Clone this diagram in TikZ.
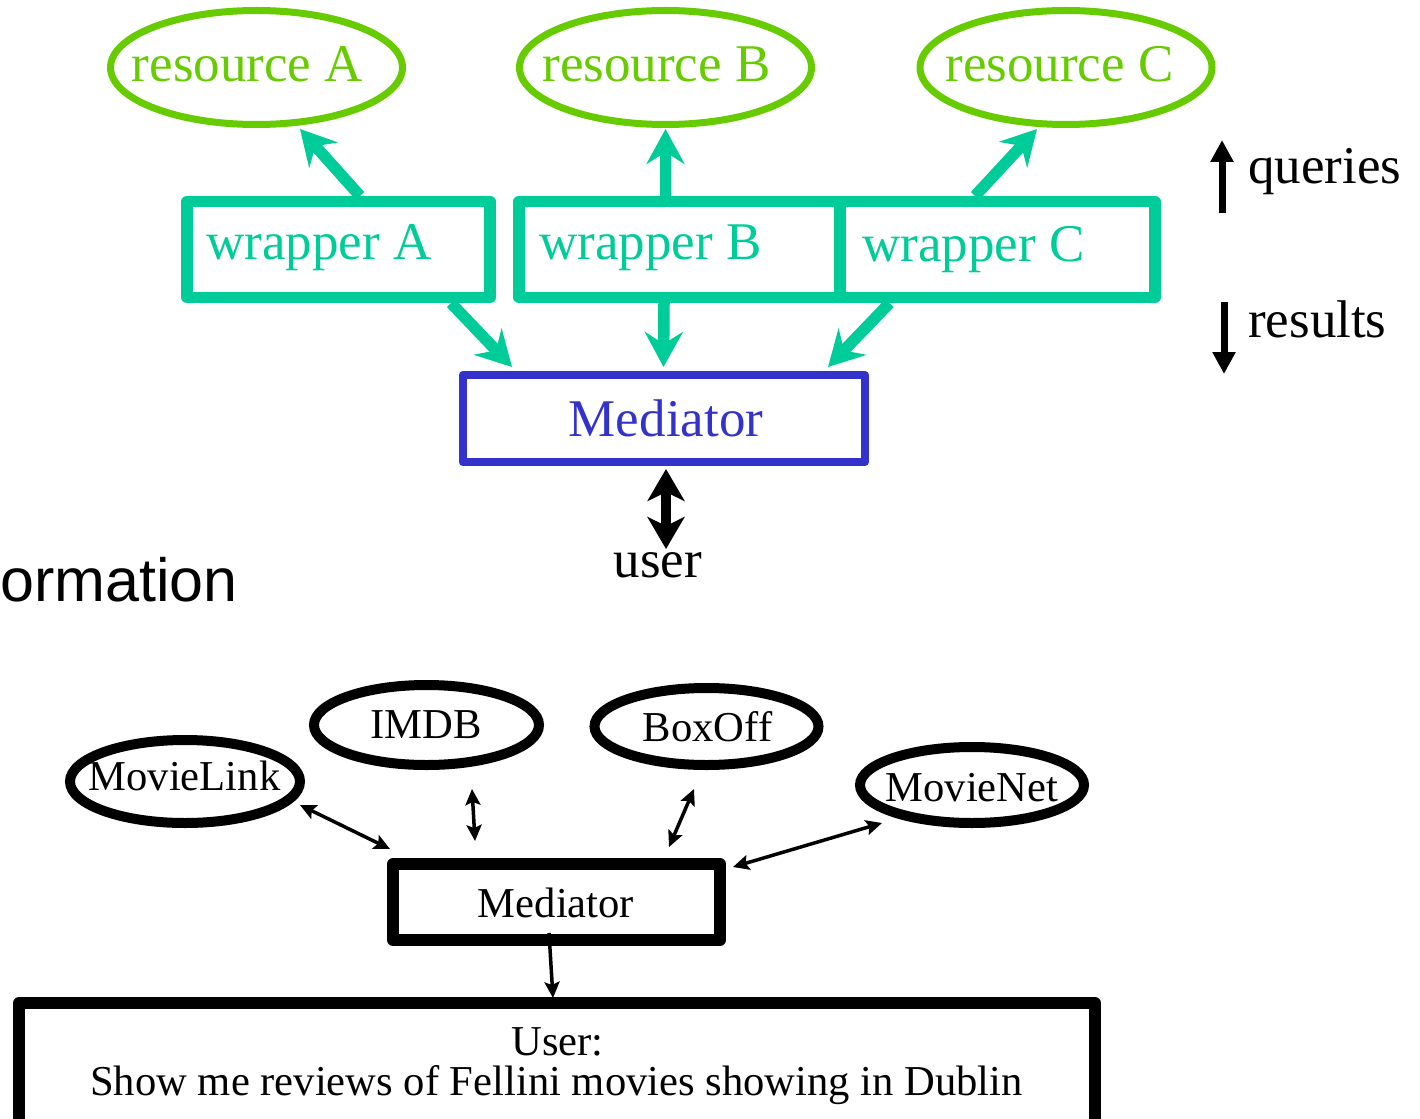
\documentclass[tikz,border=0pt]{standalone}
\usepackage{fontspec}
\setmainfont{Liberation Serif}
\newfontfamily\arialfont{Liberation Sans}
\usetikzlibrary{shapes.geometric,arrows.meta}
\definecolor{resgreen}{HTML}{66CC00}
\definecolor{wrapteal}{HTML}{00CC99}
\definecolor{medblue}{HTML}{3333CC}
\begin{document}
\begin{tikzpicture}[x=1pt,y=-1pt,
  bigtext/.style={font=\fontsize{53}{60}\selectfont, inner sep=0pt},
  smalltext/.style={font=\fontsize{42.6}{48}\selectfont, inner sep=0pt},
  resell/.style={ellipse, draw=resgreen, line width=7pt, minimum width=292pt, minimum height=114pt, inner sep=0pt},
  wrapbox/.style={rectangle, draw=wrapteal, line width=11.5pt, line join=round, minimum height=95.6pt, inner sep=0pt},
  medbox/.style={rectangle, draw=medblue, line width=8pt, line join=round, minimum width=402.5pt, minimum height=87pt, inner sep=0pt},
  srcell/.style={ellipse, draw=black, line width=10pt, inner sep=0pt},
  blackbox/.style={rectangle, draw=black, line width=12pt, line join=round, inner sep=0pt},
  tealarr/.style={draw=wrapteal, line width=11.5pt, -{Stealth[length=35pt,width=38pt,inset=12pt]}},
  userarr/.style={draw=black, line width=10pt, {Stealth[length=32pt,width=37pt,inset=9pt]}-{Stealth[length=32pt,width=37pt,inset=9pt]}},
  legarr/.style={draw=black, line width=7pt, -{Triangle[length=22pt,width=22pt]}},
  thinarr/.style={draw=black, line width=3.5pt, {Stealth[length=16pt,width=15pt,inset=3pt]}-{Stealth[length=16pt,width=15pt,inset=3pt]}},
  thinone/.style={draw=black, line width=3.5pt, -{Stealth[length=16pt,width=15pt,inset=3pt]}}
]
\useasboundingbox (0,0) rectangle (1420,1118);

% ---- top part ----
\node[resell] (resA) at (256.5,67.5) {};
\node[resell] (resB) at (665.5,67.5) {};
\node[resell] (resC) at (1066,67.5) {};
\node[bigtext, text=resgreen, anchor=base] (resAt) at ([shift={(-9,14.5)}]resA.center) {resource A};
\node[bigtext, text=resgreen, anchor=base] (resBt) at ([shift={(-9,14.5)}]resB.center) {resource B};
\node[bigtext, text=resgreen, anchor=base] (resCt) at ([shift={(-6.5,14.5)}]resC.center) {resource C};

\node[wrapbox, minimum width=303pt] (wrapA) at (338.5,249.5) {};
\node[wrapbox, minimum width=321pt] (wrapB) at (679.5,249.5) {};
\node[wrapbox, minimum width=315pt] (wrapC) at (997.5,249.5) {};
\node[bigtext, text=wrapteal, anchor=base west] (wrapAt) at (206,259) {wrapper A};
\node[bigtext, text=wrapteal, anchor=base west] (wrapBt) at (539,259) {wrapper B};
\node[bigtext, text=wrapteal, anchor=base west] (wrapCt) at (862,261) {wrapper C};

\node[medbox] (medTop) at (663.75,418.5) {};
\node[bigtext, text=medblue, anchor=base] (medTopt) at (666,436) {Mediator};

\coordinate (tipAup) at (300,129);
\coordinate (tipBup) at (665.5,129);
\coordinate (tipCup) at (1037,129);
\coordinate (tipAdn) at (512,367);
\coordinate (tipBdn) at (663.5,367);
\coordinate (tipCdn) at (828,367);
\draw[tealarr] ([shift={(21.5,0)}]wrapA.north) -- (tipAup);
\draw[tealarr] ([shift={(-14,0)}]wrapB.north) -- (tipBup);
\draw[tealarr] ([shift={(-22.5,0)}]wrapC.north) -- (tipCup);
\draw[tealarr] ([shift={(112.5,0)}]wrapA.south) -- (tipAdn);
\draw[tealarr] ([shift={(-15.5,0)}]wrapB.south) -- (tipBdn);
\draw[tealarr] ([shift={(-108,0)}]wrapC.south) -- (tipCdn);

\node[bigtext, anchor=base] (usert) at (658,577) {user};
\coordinate (userTip) at (666,549);
\draw[userarr] ([shift={(2.25,3)}]medTop.south) -- (userTip);

% legend
\coordinate (qBot) at (1222,213);
\coordinate (qTop) at (1222,140);
\coordinate (rTop) at (1224,302);
\coordinate (rBot) at (1224,374);
\draw[legarr] (qBot) -- (qTop);
\draw[legarr] (rTop) -- (rBot);
\node[bigtext, anchor=base west] (queriest) at (1248,183) {queries};
\node[bigtext, anchor=base west] (resultst) at (1248,337) {results};

% cut-off slide title
\node[font=\arialfont\fontsize{61}{70}\selectfont, inner sep=0pt, anchor=base east] (ormt) at (238,601) {ormation};

% ---- bottom part ----
\node[srcell, minimum width=225pt, minimum height=80pt] (imdb) at (426.5,725) {};
\node[srcell, minimum width=224pt, minimum height=77pt] (boxoff) at (706.5,726.5) {};
\node[srcell, minimum width=230pt, minimum height=83pt] (movielink) at (185,781.5) {};
\node[srcell, minimum width=224pt, minimum height=76pt] (movienet) at (972,785) {};
\node[smalltext, anchor=base] (imdbt) at (426,738) {IMDB};
\node[smalltext, anchor=base] (boxofft) at (707.5,741) {BoxOff};
\node[smalltext, anchor=base] (movielinkt) at (184.5,790) {MovieLink};
\node[smalltext, anchor=base] (movienett) at (972,801) {MovieNet};

\node[blackbox, minimum width=327pt, minimum height=76pt] (medBot) at (556.5,902) {};
\node[smalltext, anchor=base] (medBott) at (556,917) {Mediator};

\node[blackbox, minimum width=1076pt, minimum height=140pt] (userbox) at (557,1073) {};
\node[smalltext, anchor=base] (userl1) at (557.5,1055) {User:};
\node[smalltext, anchor=base] (userl2) at (556.5,1095) {Show me reviews of Fellini movies showing in Dublin};

\coordinate (mlEnd) at (300,805);
\coordinate (mlMed) at (390,849);
\coordinate (imEnd) at (472,789);
\coordinate (imMed) at (475,841);
\coordinate (boEnd) at (694,789);
\coordinate (boMed) at (669,847);
\coordinate (mnEnd) at (882,823);
\coordinate (mnMed) at (733,867);
\coordinate (medOut) at (549,933);
\coordinate (userIn) at (553,998);
\draw[thinarr] (mlEnd) -- (mlMed);
\draw[thinarr] (imEnd) -- (imMed);
\draw[thinarr] (boEnd) -- (boMed);
\draw[thinarr] (mnEnd) -- (mnMed);
\draw[thinone] (medOut) -- (userIn);
\end{tikzpicture}
\end{document}
